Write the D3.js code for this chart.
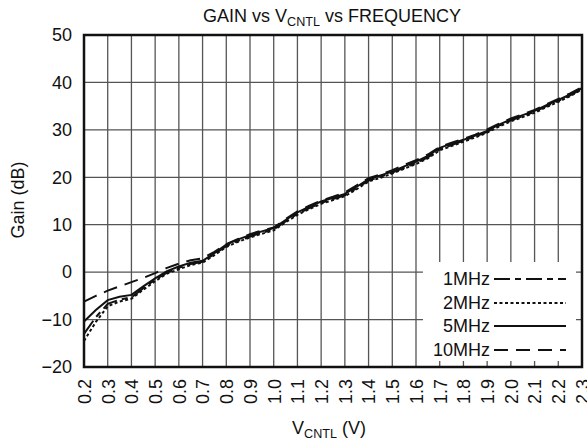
<!DOCTYPE html>
<html><head><meta charset="utf-8">
<script src="https://cdn.jsdelivr.net/npm/d3@7"></script>
<style>body{margin:0;background:#fff}svg{display:block;font-family:"Liberation Sans",Arial,sans-serif}</style>
</head><body>
<svg id="c" width="587" height="444"></svg>
<script>
const vcntl = [0.20,0.25,0.30,0.35,0.40,0.45,0.50,0.55,0.60,0.65,0.70,0.75,0.80,0.85,0.90,0.95,1.00,1.05,1.10,1.15,1.20,1.25,1.30,1.35,1.40,1.45,1.50,1.55,1.60,1.65,1.70,1.75,1.80,1.85,1.90,1.95,2.00,2.05,2.10,2.15,2.20,2.25,2.30];
const gain1MHz = [-13.0,-9.5,-6.7,-5.8,-5.3,-3.4,-1.6,-0.1,0.9,1.7,2.2,3.8,5.5,6.6,7.5,8.3,9.0,10.7,12.3,13.5,14.6,15.4,16.2,17.7,19.3,20.1,21.0,22.0,23.0,24.2,25.9,26.8,27.7,28.6,29.6,30.9,32.0,32.9,33.8,35.0,36.1,37.3,38.6];
const gain2MHz = [-14.5,-10.5,-7.2,-6.2,-5.6,-3.7,-1.9,-0.3,0.6,1.5,2.0,3.6,5.3,6.4,7.3,8.1,8.8,10.5,12.1,13.3,14.4,15.2,16.0,17.5,19.1,19.9,20.8,21.8,22.8,24.0,25.7,26.6,27.5,28.4,29.4,30.7,31.8,32.7,33.6,34.8,35.9,37.1,38.5];
const gain5MHz = [-10.4,-8.0,-5.9,-5.2,-4.8,-3.0,-1.3,0.2,1.2,2.0,2.4,4.0,5.8,6.9,7.8,8.6,9.3,11.0,12.6,13.8,14.9,15.7,16.5,18.0,19.6,20.4,21.2,22.3,23.3,24.5,26.2,27.1,27.9,28.8,29.8,31.1,32.2,33.1,34.0,35.2,36.3,37.5,38.8];
const gain10MHz = [-6.2,-5.0,-3.9,-3.0,-2.1,-1.2,-0.2,0.9,1.8,2.5,2.9,4.3,5.9,7.0,8.0,8.8,9.4,11.2,12.8,14.0,15.1,15.9,16.8,18.3,19.8,20.6,21.5,22.6,23.6,24.8,26.4,27.3,28.1,29.0,30.1,31.3,32.4,33.3,34.2,35.4,36.5,37.7,39.0];
const xTicks = [0.2,0.3,0.4,0.5,0.6,0.7,0.8,0.9,1.0,1.1,1.2,1.3,1.4,1.5,1.6,1.7,1.8,1.9,2.0,2.1,2.2,2.3];
const yTicks = [-20,-10,0,10,20,30,40,50];
const seriesNames = ["1MHz","2MHz","5MHz","10MHz"];
const seriesValues = [gain1MHz,gain2MHz,gain5MHz,gain10MHz];
const dashes = ["16,5,6,5","3,2.5",null,"14,8"];

const svg = d3.select("#c");
const L=84,R=582,T=35,B=367;
const x = d3.scaleLinear().domain([0.2,2.3]).range([L,R]);
const y = d3.scaleLinear().domain([-20,50]).range([B,T]);
const FS = 18;

// grid
const g = svg.append("g");
g.selectAll("line.v").data(xTicks).join("line")
  .attr("x1",d=>x(d)).attr("x2",d=>x(d)).attr("y1",T).attr("y2",B)
  .attr("stroke","#555").attr("stroke-width",1.3);
g.selectAll("line.h").data(yTicks).join("line")
  .attr("y1",d=>y(d)).attr("y2",d=>y(d)).attr("x1",L).attr("x2",R)
  .attr("stroke","#555").attr("stroke-width",1.3);

// curves
const line = d3.line().x((d,i)=>x(vcntl[i])).y(d=>y(d));
seriesValues.forEach((vals,k)=>{
  svg.append("path").datum(vals).attr("d",line)
    .attr("fill","none").attr("stroke","#111").attr("stroke-width",2)
    .attr("stroke-dasharray",dashes[k]);
});

// legend box
svg.append("rect").attr("x",423).attr("y",262).attr("width",153).attr("height",99).attr("fill","#fff");
const ly = [279,303,326,350];
seriesNames.forEach((n,k)=>{
  svg.append("text").attr("x",490).attr("y",ly[k]).attr("dy","0.35em")
    .attr("text-anchor","end").attr("font-size",FS).attr("fill","#111").text(n);
  svg.append("line").attr("x1",494).attr("x2",566).attr("y1",ly[k]).attr("y2",ly[k])
    .attr("stroke","#111").attr("stroke-width",2).attr("stroke-dasharray",dashes[k]);
});

// frame
svg.append("rect").attr("x",L).attr("y",T).attr("width",R-L).attr("height",B-T)
  .attr("fill","none").attr("stroke","#111").attr("stroke-width",2.5);

// y axis labels
const ya = d3.axisLeft(y).tickValues(yTicks).tickSize(0).tickPadding(12)
  .tickFormat(d=>d<0?"\u2212"+Math.abs(d):d);
const yg = svg.append("g").attr("transform",`translate(${L},0)`).call(ya);
yg.select(".domain").remove();
yg.selectAll("text").attr("font-size",FS).attr("fill","#111").attr("font-family",null);

// x axis labels
const xa = d3.axisBottom(x).tickValues(xTicks).tickSize(0).tickFormat(d3.format(".1f"));
const xg = svg.append("g").attr("transform",`translate(0,${B})`).call(xa);
xg.select(".domain").remove();
xg.selectAll("text").attr("font-size",FS).attr("fill","#111").attr("font-family",null)
  .attr("transform","rotate(-90)").attr("text-anchor","end")
  .attr("x",-12).attr("y",0).attr("dy","0.35em");

// title
const t = svg.append("text").attr("x",332).attr("y",22).attr("text-anchor","middle")
  .attr("font-size",FS).attr("fill","#111");
t.append("tspan").text("GAIN vs V");
t.append("tspan").attr("font-size",FS*0.7).attr("dy",4).text("CNTL");
t.append("tspan").attr("dy",-4).text(" vs FREQUENCY");

// x label
const xl = svg.append("text").attr("x",329).attr("y",434).attr("text-anchor","middle")
  .attr("font-size",FS).attr("fill","#111");
xl.append("tspan").text("V");
xl.append("tspan").attr("font-size",FS*0.7).attr("dy",4).text("CNTL");
xl.append("tspan").attr("dy",-4).text(" (V)");

// y label
svg.append("text").attr("transform","translate(24,200) rotate(-90)").attr("text-anchor","middle")
  .attr("font-size",FS).attr("fill","#111").text("Gain (dB)");
</script>
</body></html>
